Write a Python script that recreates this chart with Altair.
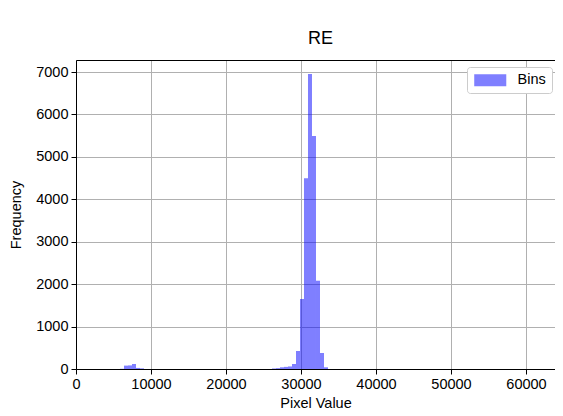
import altair as alt
import pandas as pd

# histogram data
bin_width = 533.33
bin_index = [11, 12, 13, 14, 15, 16, 49, 50, 51, 52, 53, 54, 55, 56, 57, 58, 59, 60, 61, 62]
counts = [5, 80, 85, 118, 25, 15, 12, 20, 40, 50, 60, 118, 424, 1650, 4494, 6953, 5491, 2081, 377, 40]
series = ["Bins"] * len(counts)

x_ticks = [0, 10000, 20000, 30000, 40000, 50000, 60000]
y_ticks = [0, 1000, 2000, 3000, 4000, 5000, 6000, 7000]

df = pd.DataFrame({
    "start": [i * bin_width for i in bin_index],
    "end": [(i + 1) * bin_width for i in bin_index],
    "count": counts,
    "series": series,
})

FONT = "Liberation Sans"
FS = 14.5
xscale = alt.Scale(domain=[0, 63867], nice=False, zero=False)
yscale = alt.Scale(domain=[0, 7283], nice=False)

bars = alt.Chart(df).mark_rect(opacity=0.5).encode(
    x=alt.X("start:Q", scale=xscale,
            axis=alt.Axis(title="Pixel Value", values=x_ticks, format="d",
                          grid=True, gridColor="#b0b0b0", gridWidth=1,
                          domainColor="black", tickColor="black", tickSize=5,
                          labelFontSize=FS, titleFontSize=FS, labelFont=FONT,
                          titleFont=FONT, titleFontWeight="normal",
                          labelColor="black", titleColor="black",
                          labelPadding=3, titlePadding=6, labelFlush=False)),
    x2="end:Q",
    y=alt.Y("count:Q", scale=yscale,
            axis=alt.Axis(title="Frequency", values=y_ticks, format="d",
                          grid=True, gridColor="#b0b0b0", gridWidth=1,
                          domainColor="black", tickColor="black", tickSize=5,
                          labelFontSize=FS, titleFontSize=FS, labelFont=FONT,
                          titleFont=FONT, titleFontWeight="normal",
                          labelColor="black", titleColor="black",
                          labelPadding=3, titlePadding=12)),
    y2=alt.datum(0),
    color=alt.Color("series:N",
                    scale=alt.Scale(domain=["Bins"], range=["#0000ff"]),
                    legend=alt.Legend(title=None, orient="none",
                                      legendX=391, legendY=7,
                                      fillColor="white", strokeColor="#cccccc",
                                      cornerRadius=3, padding=6,
                                      symbolType="M-2.67,-1H2.67V1H-2.67Z",
                                      symbolSize=144, symbolOffset=10,
                                      symbolOpacity=0.5, symbolStrokeWidth=0,
                                      labelFontSize=FS, labelFont=FONT,
                                      labelColor="black", labelOffset=20)),
)

top = alt.Chart(df).mark_rect(opacity=0).encode(
    x=alt.X("start:Q", scale=xscale,
            axis=alt.Axis(orient="top", title=None, labels=False, ticks=False,
                          grid=False, domainColor="black", values=x_ticks)),
)

chart = alt.layer(bars, top).resolve_axis(x="independent").properties(
    width=479, height=309,
    autosize=alt.AutoSizeParams(type="none"),
    padding={"left": 68, "top": 52, "right": 0, "bottom": 46},
    title=alt.TitleParams("RE", fontSize=18, font=FONT, fontWeight="normal",
                          color="black", anchor="middle", offset=12, dx=5),
).configure_view(stroke=None).configure(background="white")

chart.save("out.html", embed_options={"renderer": "svg", "actions": False})
